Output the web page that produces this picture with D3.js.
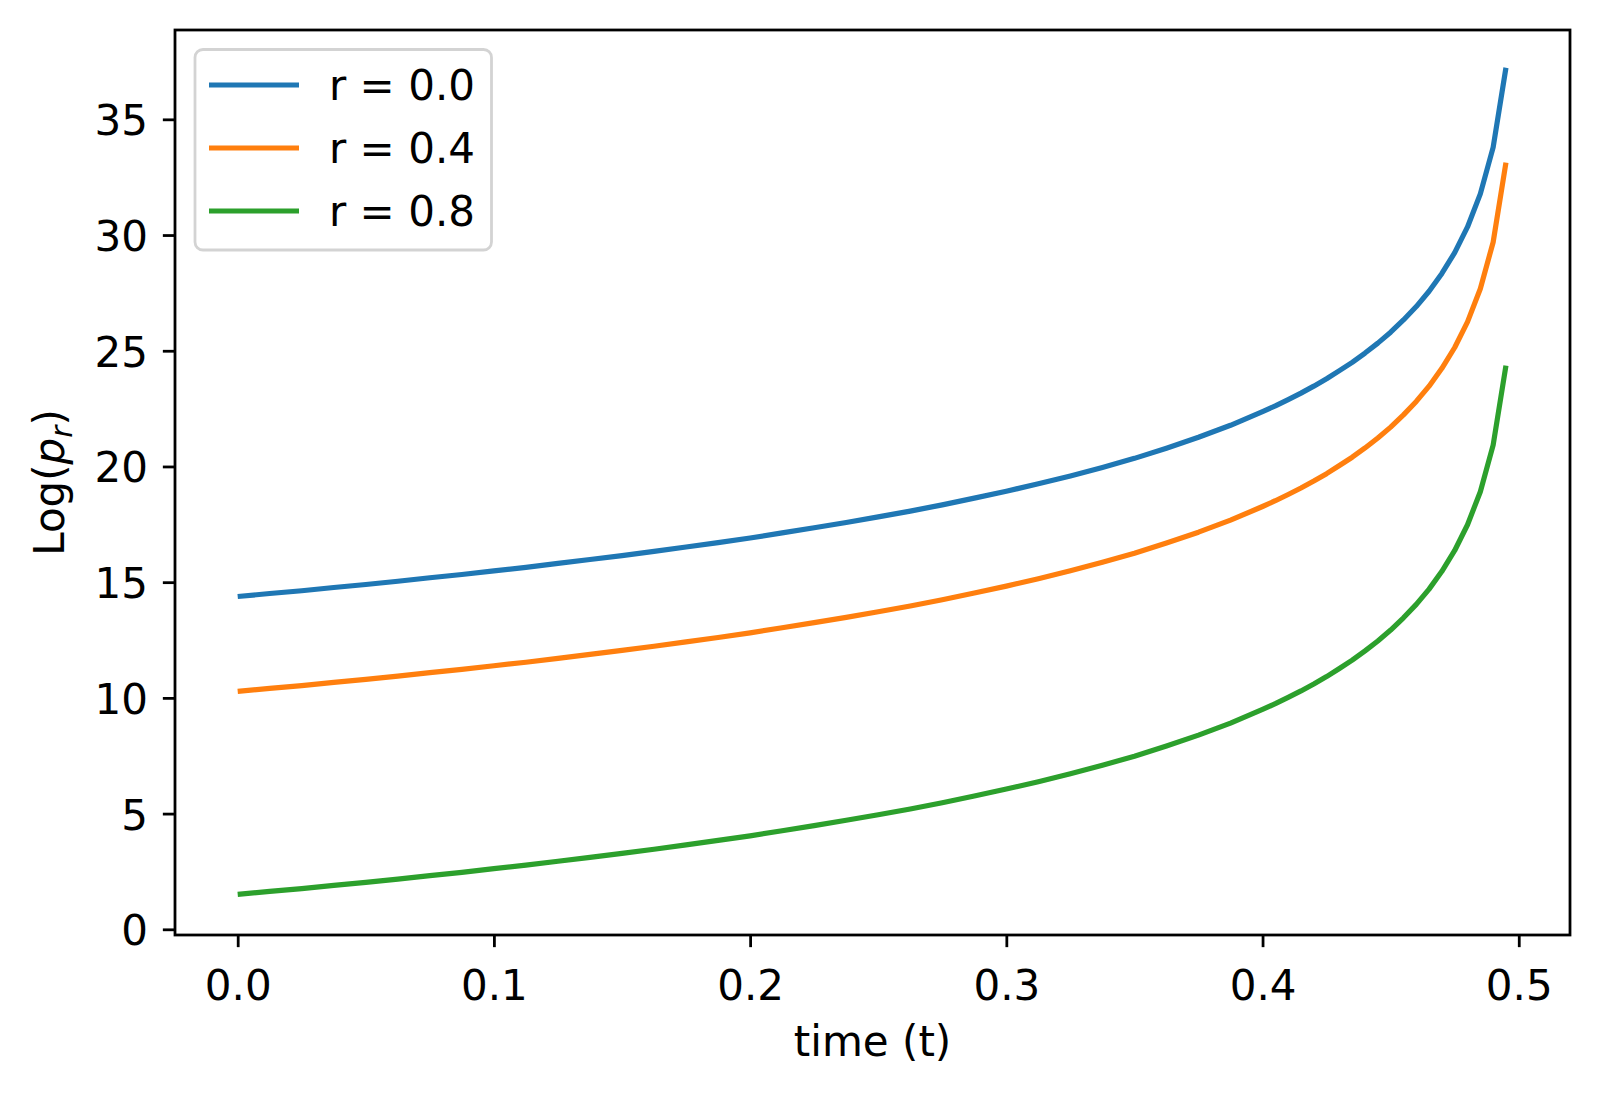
<!DOCTYPE html>
<html>
<head>
<meta charset="utf-8">
<script src="https://cdn.jsdelivr.net/npm/d3@7"></script>
<style>
  html, body { margin: 0; padding: 0; background: #ffffff; }
  svg { display: block; }
  text { font-family: "DejaVu Sans", sans-serif; fill: #000; }
</style>
</head>
<body>
<svg id="chart" width="1599" height="1095"></svg>
<script>
// ---- data ----
const timeValues = [0, 0.0125, 0.025, 0.0375, 0.05, 0.0625, 0.075, 0.0875, 0.1, 0.1125, 0.125, 0.1375, 0.15, 0.1625, 0.175, 0.1875, 0.2, 0.2125, 0.225, 0.2375, 0.25, 0.2625, 0.275, 0.2875, 0.3, 0.3125, 0.325, 0.3375, 0.35, 0.3625, 0.375, 0.3875, 0.4, 0.405, 0.41, 0.415, 0.42, 0.425, 0.43, 0.435, 0.44, 0.445, 0.45, 0.455, 0.46, 0.465, 0.47, 0.475, 0.48, 0.485, 0.49, 0.495];
const seriesR00 = [14.38, 14.51, 14.63, 14.77, 14.90, 15.04, 15.19, 15.33, 15.49, 15.64, 15.81, 15.98, 16.15, 16.33, 16.52, 16.71, 16.91, 17.13, 17.35, 17.58, 17.82, 18.07, 18.34, 18.63, 18.93, 19.25, 19.59, 19.96, 20.35, 20.79, 21.26, 21.78, 22.37, 22.62, 22.89, 23.17, 23.47, 23.79, 24.14, 24.50, 24.90, 25.33, 25.80, 26.33, 26.91, 27.57, 28.34, 29.24, 30.35, 31.78, 33.79, 37.23];
const seriesR04 = [10.28, 10.41, 10.53, 10.67, 10.80, 10.94, 11.09, 11.23, 11.39, 11.54, 11.71, 11.88, 12.05, 12.23, 12.42, 12.61, 12.81, 13.03, 13.25, 13.48, 13.72, 13.97, 14.24, 14.53, 14.83, 15.15, 15.49, 15.86, 16.25, 16.69, 17.16, 17.68, 18.27, 18.52, 18.79, 19.07, 19.37, 19.69, 20.04, 20.40, 20.80, 21.23, 21.70, 22.23, 22.81, 23.47, 24.24, 25.14, 26.25, 27.68, 29.69, 33.13];
const seriesR08 = [1.51, 1.64, 1.76, 1.90, 2.03, 2.17, 2.32, 2.46, 2.62, 2.77, 2.94, 3.11, 3.28, 3.46, 3.65, 3.84, 4.04, 4.26, 4.48, 4.71, 4.95, 5.20, 5.47, 5.76, 6.06, 6.38, 6.72, 7.09, 7.48, 7.92, 8.39, 8.91, 9.50, 9.75, 10.02, 10.30, 10.60, 10.92, 11.27, 11.63, 12.03, 12.46, 12.93, 13.46, 14.04, 14.70, 15.47, 16.37, 17.48, 18.91, 20.92, 24.36];
const seriesLabels = ["r = 0.0", "r = 0.4", "r = 0.8"];
const xTickValues = [0.0, 0.1, 0.2, 0.3, 0.4, 0.5];
const yTickValues = [0, 5, 10, 15, 20, 25, 30, 35];
const xAxisLabel = "time (t)";

// ---- layout ----
const colors = ["#1f77b4", "#ff7f0e", "#2ca02c"];
const plot = { left: 175, top: 30, right: 1570, bottom: 935 };
const fontSize = 42;
const spineW = 2.78, tickLen = 12.15, lineW = 5.2;

const svg = d3.select("#chart");

const x = d3.scaleLinear().domain([-0.02447, 0.52]).range([plot.left, plot.right]);
const y = d3.scaleLinear().domain([-0.246, 38.86]).range([plot.bottom, plot.top]);

// clip
svg.append("defs").append("clipPath").attr("id", "clip")
  .append("rect").attr("x", plot.left).attr("y", plot.top)
  .attr("width", plot.right - plot.left).attr("height", plot.bottom - plot.top);

// lines
const allSeries = [seriesR00, seriesR04, seriesR08];
const line = d3.line().x(d => x(d[0])).y(d => y(d[1]));
const gLines = svg.append("g").attr("clip-path", "url(#clip)");
allSeries.forEach((vals, i) => {
  gLines.append("path")
    .datum(timeValues.map((t, j) => [t, vals[j]]))
    .attr("d", line)
    .attr("fill", "none")
    .attr("stroke", colors[i])
    .attr("stroke-width", lineW)
    .attr("stroke-linecap", "butt")
    .attr("stroke-linejoin", "round");
});

// axes
const xAxis = d3.axisBottom(x).tickValues(xTickValues).tickFormat(d3.format(".1f"))
  .tickSize(tickLen).tickPadding(0);
const gx = svg.append("g").attr("transform", `translate(0,${plot.bottom})`).call(xAxis);
gx.select(".domain").remove();
gx.selectAll(".tick line").attr("stroke", "#000").attr("stroke-width", spineW);
gx.selectAll(".tick text")
  .attr("font-size", fontSize)
  .attr("font-family", "DejaVu Sans")
  .attr("dy", null)
  .attr("y", 65);

const yAxis = d3.axisLeft(y).tickValues(yTickValues).tickFormat(d3.format("d"))
  .tickSize(tickLen).tickPadding(0);
const gy = svg.append("g").attr("transform", `translate(${plot.left},0)`).call(yAxis);
gy.select(".domain").remove();
gy.selectAll(".tick line").attr("stroke", "#000").attr("stroke-width", spineW);
gy.selectAll(".tick text")
  .attr("font-size", fontSize)
  .attr("font-family", "DejaVu Sans")
  .attr("dy", null)
  .attr("x", -27)
  .attr("y", 15.5);

// frame (spines)
svg.append("rect")
  .attr("x", plot.left).attr("y", plot.top)
  .attr("width", plot.right - plot.left).attr("height", plot.bottom - plot.top)
  .attr("fill", "none").attr("stroke", "#000").attr("stroke-width", spineW)
  .attr("stroke-linejoin", "miter");

// axis labels
svg.append("text")
  .attr("x", (plot.left + plot.right) / 2)
  .attr("y", 1056)
  .attr("text-anchor", "middle")
  .attr("font-size", fontSize)
  .text(xAxisLabel);

const yl = svg.append("text")
  .attr("transform", `translate(64,${(plot.top + plot.bottom) / 2}) rotate(-90)`)
  .attr("text-anchor", "middle")
  .attr("font-size", fontSize);
yl.append("tspan").text("Log(");
yl.append("tspan").attr("font-style", "italic").text("p");
yl.append("tspan").attr("font-style", "italic").attr("font-size", fontSize * 0.7).attr("dy", 8).text("r");
yl.append("tspan").attr("dy", -8).text(")");

// legend
const lg = svg.append("g");
lg.append("rect")
  .attr("x", 195).attr("y", 49.5).attr("width", 296.5).attr("height", 200.5)
  .attr("rx", 8).attr("ry", 8)
  .attr("fill", "#ffffff").attr("fill-opacity", 0.8)
  .attr("stroke", "#d3d3d3").attr("stroke-width", spineW);
seriesLabels.forEach((lab, i) => {
  const cy = 85 + i * 63;
  lg.append("line")
    .attr("x1", 209).attr("x2", 299).attr("y1", cy).attr("y2", cy)
    .attr("stroke", colors[i]).attr("stroke-width", lineW);
  lg.append("text")
    .attr("x", 329).attr("y", cy + 15)
    .attr("font-size", fontSize)
    .text(lab);
});
</script>
</body>
</html>
